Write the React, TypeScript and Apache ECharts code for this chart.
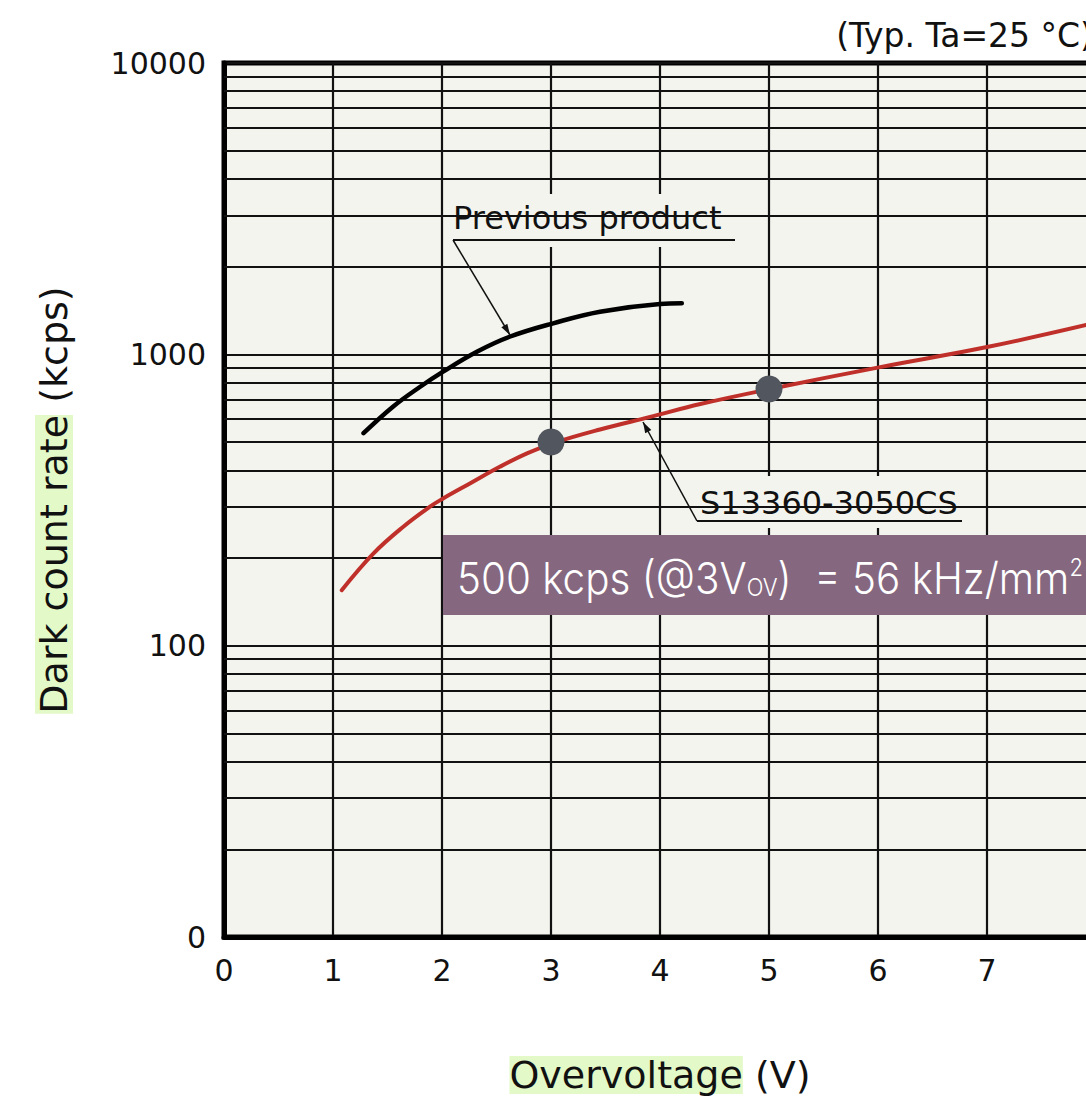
import React, { useEffect, useRef } from 'react';
import * as echarts from 'echarts';

// ---- data ----
const xTickValues = [0, 1, 2, 3, 4, 5, 6, 7, 8];
const yTickValues = [10, 100, 1000, 10000];
const yTickLabels = ['0', '100', '1000', '10000'];
const yMinorGrid = [
  20, 30, 40, 50, 60, 70, 80, 90,
  200, 300, 400, 500, 600, 700, 800, 900,
  2000, 3000, 4000, 5000, 6000, 7000, 8000, 9000,
];

const s13360Voltage = [1.08, 1.37, 1.645, 1.89, 2.01, 2.26, 2.53, 2.78, 3.03, 3.45, 3.91, 4.37, 5.01, 6.02, 7.0, 7.91];
const s13360Rate = [155, 207, 256, 300, 320, 361, 411, 457, 497, 552, 610, 675, 760, 904, 1059, 1261];

const previousVoltage = [1.28, 1.55, 1.8, 2.01, 2.32, 2.62, 3.02, 3.45, 4.0, 4.2];
const previousRate = [536, 661, 774, 872, 1021, 1149, 1278, 1401, 1489, 1497];

const markedVoltage = [3, 5];
const markedRate = [500, 760];

const FONT = 'DejaVu Sans';
const PLOT_BG = '#f4f4ee';

function arrowHead(tip: number[], from: number[], len: number, half: number) {
  const dx = tip[0] - from[0];
  const dy = tip[1] - from[1];
  const l = Math.hypot(dx, dy);
  const ux = dx / l, uy = dy / l;
  const bx = tip[0] - ux * len, by = tip[1] - uy * len;
  const px = -uy, py = ux;
  return [tip, [bx + px * half, by + py * half], [bx - px * half, by - py * half]];
}

export default function App() {
  const ref = useRef<HTMLDivElement>(null);
  useEffect(() => {
    if (!ref.current) return;
    document.body.style.margin = '0';
    const chart = echarts.init(ref.current, undefined, { renderer: 'svg' });

    const prevFrom = [453, 240];
    const prevTip = [510, 335];
    const sFrom = [697, 521];
    const sTip = [643, 422];

    chart.setOption({
      animation: false,
      backgroundColor: '#ffffff',
      grid: {
        left: 224,
        top: 63,
        width: 872,
        height: 874,
        show: true,
        backgroundColor: PLOT_BG,
        borderColor: '#000',
        borderWidth: 5,
        containLabel: false,
        outerBoundsMode: 'none',
      },
      xAxis: {
        type: 'value',
        min: 0,
        max: 8,
        interval: 1,
        axisLine: { show: true, lineStyle: { color: '#000', width: 5 } },
        axisTick: { show: false },
        splitLine: { show: true, lineStyle: { color: '#111', width: 2.2 } },
        axisLabel: {
          margin: 18,
          fontFamily: FONT,
          fontSize: 30,
          color: '#111',
          formatter: (v: number) => (xTickValues.includes(v) ? String(v) : ''),
        },
        name: '{h|Overvoltage} (V)',
        nameLocation: 'middle',
        nameGap: 108,
        nameTextStyle: {
          fontFamily: FONT,
          fontSize: 38,
          color: '#111',
          lineHeight: 60,
          rich: {
            h: { fontFamily: FONT, fontSize: 38, color: '#111', backgroundColor: '#e4f9c8', lineHeight: 60 },
          },
        },
      },
      yAxis: {
        type: 'log',
        logBase: 10,
        min: 10,
        max: 10000,
        axisLine: { show: true, lineStyle: { color: '#000', width: 5 } },
        axisTick: { show: false },
        splitLine: { show: true, lineStyle: { color: '#111', width: 2.2 } },
        axisLabel: {
          margin: 18,
          fontFamily: FONT,
          fontSize: 30,
          color: '#111',
          formatter: (v: number) => {
            const i = yTickValues.findIndex((t) => Math.abs(t - v) / t < 1e-6);
            return i >= 0 ? yTickLabels[i] : '';
          },
        },
        name: '{h|Dark count rate} (kcps)',
        nameLocation: 'middle',
        nameRotate: 90,
        nameGap: 138,
        nameTextStyle: {
          fontFamily: FONT,
          fontSize: 38,
          color: '#111',
          lineHeight: 64,
          rich: {
            h: { fontFamily: FONT, fontSize: 38, color: '#111', backgroundColor: '#e4f9c8', lineHeight: 64 },
          },
        },
      },
      series: [
        {
          name: 'minor-grid',
          type: 'line',
          data: [],
          z: 1,
          silent: true,
          markLine: {
            silent: true,
            symbol: 'none',
            label: { show: false },
            lineStyle: { color: '#111', width: 2.2, type: 'solid' },
            data: yMinorGrid.map((v) => ({ yAxis: v })),
          },
        },
        {
          name: 'Previous product',
          type: 'line',
          smooth: 0.4,
          showSymbol: false,
          z: 5,
          lineStyle: { color: '#000', width: 4.5, cap: 'round' },
          data: previousVoltage.map((v, i) => [v, previousRate[i]]),
        },
        {
          name: 'S13360-3050CS',
          type: 'line',
          smooth: 0.4,
          showSymbol: false,
          z: 5,
          lineStyle: { color: '#c0302b', width: 4, cap: 'round' },
          data: s13360Voltage.map((v, i) => [v, s13360Rate[i]]),
        },
        {
          name: 'marked',
          type: 'scatter',
          z: 6,
          symbolSize: 27,
          itemStyle: { color: '#52565e', opacity: 1 },
          data: markedVoltage.map((v, i) => [v, markedRate[i]]),
        },
      ],
      graphic: [
        // title
        {
          type: 'text',
          x: 1093,
          y: 35,
          z: 20,
          style: {
            text: '(Typ. Ta=25 °C)',
            font: `33px '${FONT}'`,
            fill: '#111',
            align: 'right',
            verticalAlign: 'middle',
          },
        },
        // label backgrounds that hide the grid
        { type: 'rect', z: 3, shape: { x: 446, y: 194, width: 290, height: 53 }, style: { fill: PLOT_BG } },
        { type: 'rect', z: 3, shape: { x: 697, y: 476, width: 268, height: 52 }, style: { fill: PLOT_BG } },
        // Previous product label
        {
          type: 'text',
          x: 453,
          y: 218,
          z: 20,
          style: { text: 'Previous product', font: `32px '${FONT}'`, fill: '#111', align: 'left', verticalAlign: 'middle' },
        },
        { type: 'line', z: 20, shape: { x1: 453, y1: 240, x2: 735, y2: 240 }, style: { stroke: '#111', lineWidth: 2 } },
        { type: 'line', z: 20, shape: { x1: prevFrom[0], y1: prevFrom[1], x2: prevTip[0], y2: prevTip[1] }, style: { stroke: '#111', lineWidth: 1.5 } },
        { type: 'polygon', z: 20, shape: { points: arrowHead(prevTip, prevFrom, 11, 3.5) }, style: { fill: '#111' } },
        // S13360 label
        {
          type: 'text',
          x: 700,
          y: 503,
          z: 20,
          style: { text: 'S13360-3050CS', font: `32px '${FONT}'`, fill: '#111', align: 'left', verticalAlign: 'middle' },
        },
        { type: 'line', z: 20, shape: { x1: 697, y1: 521, x2: 962, y2: 521 }, style: { stroke: '#111', lineWidth: 2 } },
        { type: 'line', z: 20, shape: { x1: sFrom[0], y1: sFrom[1], x2: sTip[0], y2: sTip[1] }, style: { stroke: '#111', lineWidth: 1.5 } },
        { type: 'polygon', z: 20, shape: { points: arrowHead(sTip, sFrom, 11, 3.5) }, style: { fill: '#111' } },
        // purple callout
        { type: 'rect', z: 30, shape: { x: 443, y: 535, width: 700, height: 80 }, style: { fill: '#85687f' } },
        {
          type: 'text',
          x: 457,
          y: 578,
          scaleX: 0.918,
          z: 31,
          style: {
            text: '500 kcps (@3V{sub|OV})  = 56 kHz/mm{sup|2}',
            fill: '#ffffff',
            fontFamily: 'Inter',
            fontWeight: 300,
            fontSize: 44,
            align: 'left',
            verticalAlign: 'middle',
            rich: {
              sub: { fontFamily: 'Inter', fontWeight: 300, fontSize: 24, fill: '#ffffff', verticalAlign: 'bottom', lineHeight: 24 },
              sup: { fontFamily: 'Inter', fontWeight: 300, fontSize: 24, fill: '#ffffff', verticalAlign: 'top', lineHeight: 24 },
            },
          },
        },
      ],
    });
    return () => chart.dispose();
  }, []);

  return (
    <div style={{ position: 'fixed', left: 0, top: 0, width: 1086, height: 1096, overflow: 'hidden', background: '#fff' }}>
      <div ref={ref} style={{ width: 1130, height: 1096 }} />
    </div>
  );
}
